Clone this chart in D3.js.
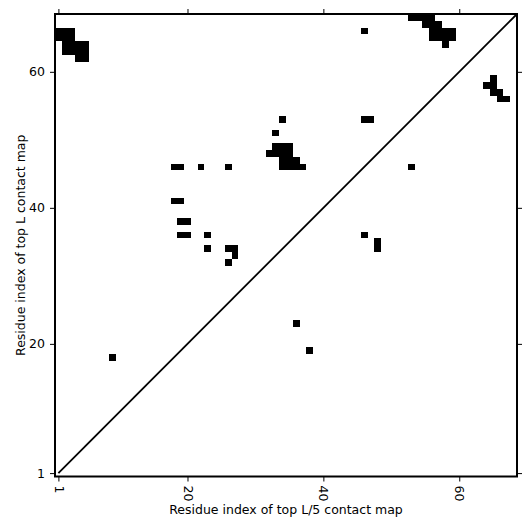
<!DOCTYPE html>
<html>
<head>
<meta charset="utf-8">
<script src="https://cdn.jsdelivr.net/npm/d3@7"></script>
<style>
  body { margin: 0; background: #fff; }
  svg text { font-family: "DejaVu Sans", sans-serif; }
</style>
</head>
<body>
<svg width="531" height="531"></svg>
<script>
// sequence length and ticks
const seqLength = 68;
const tickValues = [1, 20, 40, 60];

// top L contacts (drawn above the diagonal): [i, j]
const topLContacts = [
  [1, 65], [2, 65], [3, 65], [1, 66], [2, 66], [3, 66],
  [2, 63], [3, 63], [4, 63], [5, 63], [2, 64], [3, 64], [4, 64], [5, 64],
  [4, 62], [5, 62],
  [9, 18],
  [18, 41], [19, 41],
  [18, 46], [19, 46], [22, 46], [26, 46],
  [19, 38], [20, 38], [19, 36], [20, 36], [23, 36],
  [23, 34], [26, 34], [27, 34], [27, 33], [26, 32],
  [34, 53], [33, 51],
  [33, 49], [34, 49], [35, 49],
  [32, 48], [33, 48], [34, 48], [35, 48],
  [34, 47], [35, 47], [36, 47],
  [34, 46], [35, 46], [36, 46], [37, 46],
  [46, 53], [47, 53],
  [46, 66],
  [53, 68], [54, 68], [55, 68], [56, 68],
  [55, 67], [56, 67], [57, 67],
  [56, 66], [57, 66], [58, 66], [59, 66],
  [56, 65], [57, 65], [58, 65], [59, 65],
  [58, 64]
];

// top L/5 contacts (drawn below the diagonal): [i, j]
const topL5Contacts = [
  [36, 23], [38, 19], [46, 36], [48, 34], [48, 35], [53, 46],
  [65, 59], [64, 58], [65, 58], [65, 57], [66, 57], [66, 56], [67, 56]
];

const svg = d3.select("svg");
const mLeft = 55, mRight = 517, mTop = 14, mBottom = 476.5;
const fontSize = "12.5px";

const x = d3.scaleLinear().domain([0.5, seqLength + 0.5]).range([mLeft, mRight]);
const y = d3.scaleLinear().domain([0.5, seqLength + 0.5]).range([mBottom, mTop]);

// cells
svg.append("g")
  .selectAll("rect")
  .data(topLContacts.concat(topL5Contacts))
  .enter()
  .append("rect")
  .attr("x", d => x(d[0] - 0.5))
  .attr("y", d => y(d[1] + 0.5))
  .attr("width", d => x(d[0] + 0.5) - x(d[0] - 0.5))
  .attr("height", d => y(d[1] - 0.5) - y(d[1] + 0.5))
  .attr("fill", "#000")
  .attr("shape-rendering", "crispEdges");

// diagonal
svg.append("line")
  .attr("x1", x(1)).attr("y1", y(1))
  .attr("x2", x(seqLength + 0.5)).attr("y2", y(seqLength + 0.5))
  .attr("stroke", "#000")
  .attr("stroke-width", 1.8);

// axes
function styleAxis(g) {
  g.select(".domain").remove();
  g.selectAll(".tick line").attr("stroke", "#000").attr("stroke-width", 1);
  g.selectAll(".tick text").attr("fill", "#000").style("font-size", fontSize).style("font-family", "DejaVu Sans");
}

svg.append("g")
  .attr("transform", `translate(0,${mBottom})`)
  .call(d3.axisBottom(x).tickValues(tickValues).tickSize(5).tickPadding(4))
  .call(styleAxis)
  .selectAll(".tick text")
  .attr("transform", "rotate(90)")
  .attr("x", 9)
  .attr("y", 0)
  .attr("dy", "0.35em")
  .attr("text-anchor", "start");

svg.append("g")
  .attr("transform", `translate(${mLeft},0)`)
  .call(d3.axisLeft(y).tickValues(tickValues).tickSize(5).tickPadding(5))
  .call(styleAxis);

svg.append("g")
  .attr("transform", `translate(0,${mTop})`)
  .call(d3.axisTop(x).tickValues(tickValues).tickSize(5).tickFormat(""))
  .call(styleAxis);

svg.append("g")
  .attr("transform", `translate(${mRight},0)`)
  .call(d3.axisRight(y).tickValues(tickValues).tickSize(5).tickFormat(""))
  .call(styleAxis);

// frame
svg.append("rect")
  .attr("x", mLeft).attr("y", mTop)
  .attr("width", mRight - mLeft).attr("height", mBottom - mTop)
  .attr("fill", "none")
  .attr("stroke", "#000")
  .attr("stroke-width", 2);

// axis labels
svg.append("text")
  .attr("x", (mLeft + mRight) / 2)
  .attr("y", 514)
  .attr("text-anchor", "middle")
  .style("font-size", fontSize)
  .text("Residue index of top L/5 contact map");

svg.append("text")
  .attr("transform", `translate(25,${(mTop + mBottom) / 2}) rotate(-90)`)
  .attr("text-anchor", "middle")
  .style("font-size", fontSize)
  .text("Residue index of top L contact map");
</script>
</body>
</html>
